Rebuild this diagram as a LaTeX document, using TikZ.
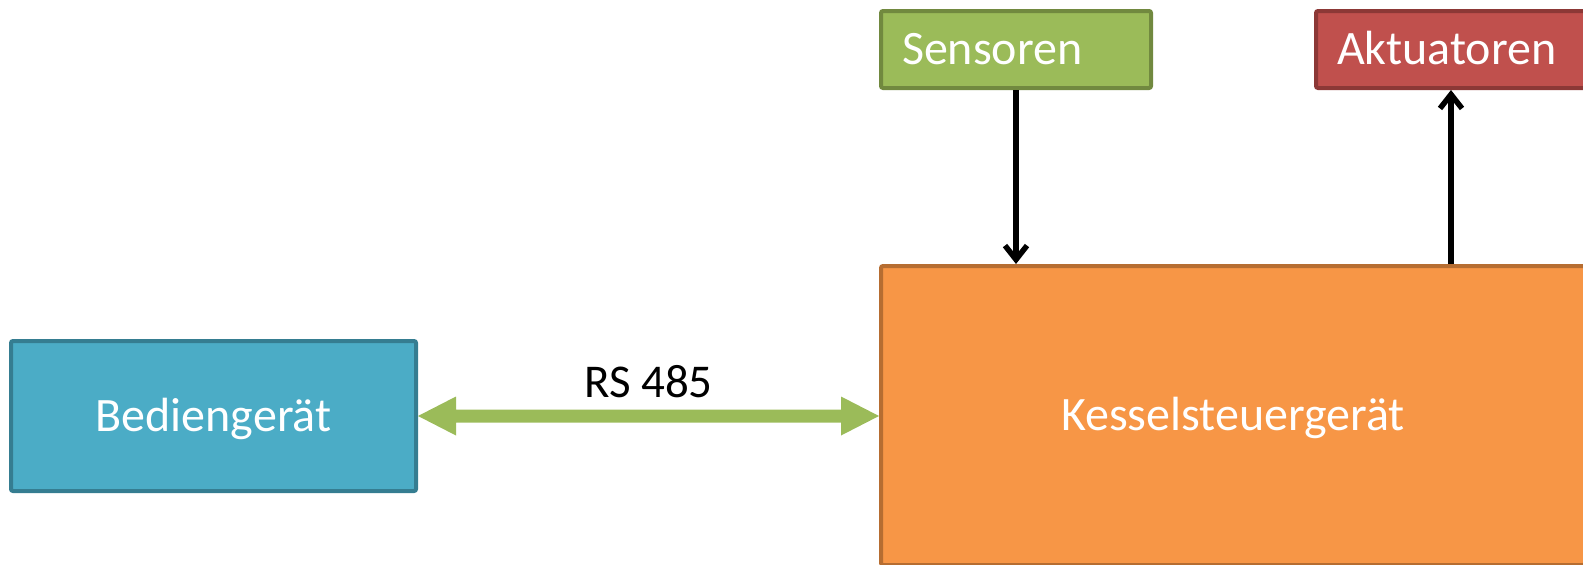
\documentclass[tikz,border=0pt]{standalone}
\usepackage{fontspec}
\setmainfont{Carlito}
\usetikzlibrary{arrows.meta,calc}
\definecolor{tealfill}{HTML}{4BACC6}
\definecolor{tealline}{HTML}{357D91}
\definecolor{greenfill}{HTML}{9BBB59}
\definecolor{greenline}{HTML}{71893F}
\definecolor{redfill}{HTML}{C0504D}
\definecolor{redline}{HTML}{8C3836}
\definecolor{orangefill}{HTML}{F79646}
\definecolor{orangeline}{HTML}{B66D31}
\begin{document}
\begin{tikzpicture}[x=1pt,y=-1pt,
  box/.style={draw, line width=4pt, rounded corners=2pt, text=white,
    font=\fontsize{48}{54}\selectfont, inner sep=0pt,
    text height=30pt, text depth=0pt},
  smallbox/.style={box, minimum height=77pt, inner xsep=21pt,
    text width=228pt, align=left},
  signal/.style={line width=5.5pt, black,
    -{Straight Barb[length=14pt,width=22pt]}},
  busarrow/.style={fill=greenfill, draw=none}
]
\useasboundingbox (0,0) rectangle (1583,565);
\begin{scope}
\clip (0,0) rectangle (1583,565);

\node[box, fill=tealfill, draw=tealline, minimum width=405pt, minimum height=150pt]
  (bedien) at (213.5,416) {Bediengerät};
\node[box, fill=orangefill, draw=orangeline, minimum width=704pt, minimum height=299pt]
  (kessel) at (1233,415.5) {Kesselsteuergerät};
\node[smallbox, fill=greenfill, draw=greenline] (sensoren) at (1016,49.5) {Sensoren};
\node[smallbox, fill=redfill, draw=redline] (aktuatoren) at (1451,49.5) {Aktuatoren};

% RS 485 double arrow
\coordinate (rtip) at (kessel.west |- bedien.east);
\fill[busarrow] (bedien.east) -- ++(38,-19.5) -- ++(0,13)
  -- ($(rtip)+(-38,-6.5)$) -- ++(0,-13) -- (rtip) -- ++(-38,19.5) -- ++(0,-13)
  -- ($(bedien.east)+(38,6.5)$) -- ++(0,13) -- cycle;
\node[font=\fontsize{47}{52}\selectfont, text height=30pt, text depth=0pt, inner sep=0pt]
  (rs) at ($(bedien.east)!0.5!(rtip)+(0,-34)$) {RS 485};

% signal arrows
\draw[signal] (sensoren.south) -- (sensoren.south |- kessel.north);
\draw[signal] (aktuatoren.south |- kessel.north) -- (aktuatoren.south);
\end{scope}
\end{tikzpicture}
\end{document}
